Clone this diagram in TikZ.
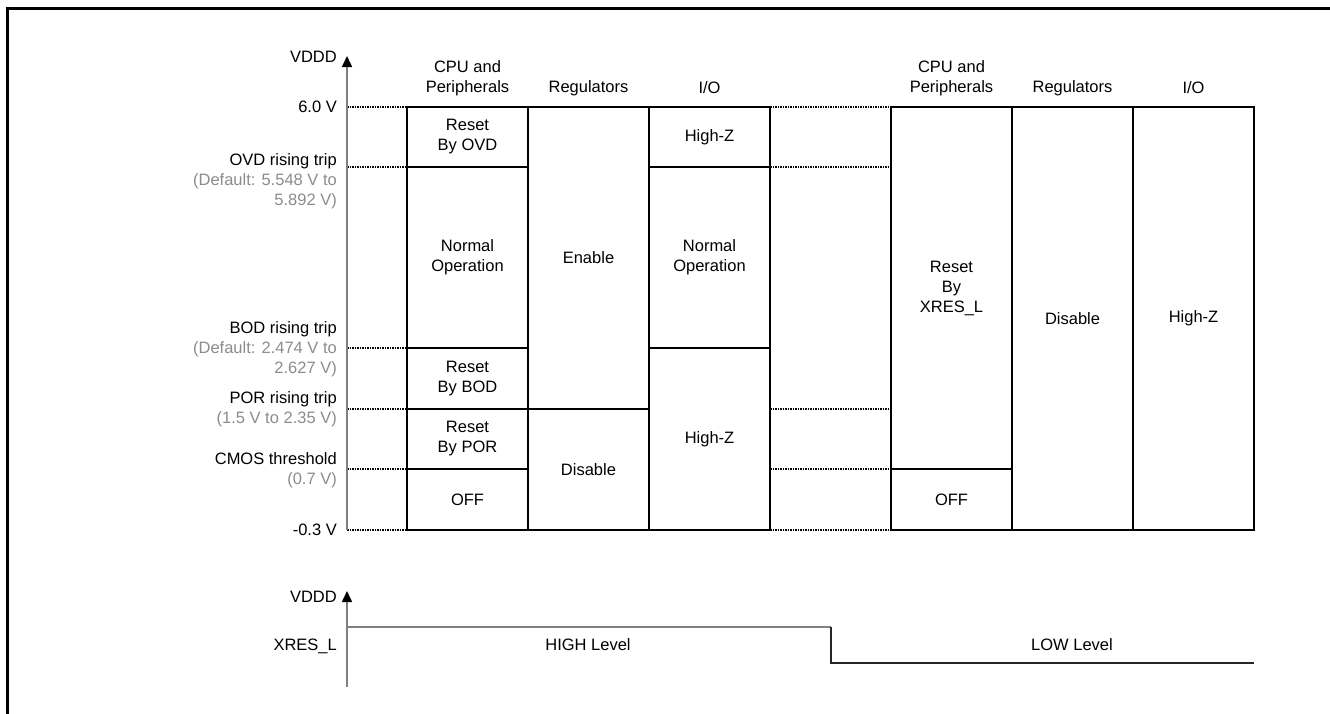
\documentclass[tikz,border=0pt]{standalone}
\usepackage{fontspec}
\setmainfont{Liberation Sans}
\usetikzlibrary{arrows.meta}
\begin{document}
\begin{tikzpicture}[x=1pt,y=-1pt,
  font=\fontsize{16.5}{20}\selectfont,
  cell/.style={draw=black, line width=1.5pt, inner sep=0pt, align=center, minimum width=121pt},
  lbl/.style={anchor=east, inner sep=0pt, text height=11.8pt, text depth=0pt},
  sub/.style={lbl, text=black!45},
  hdr/.style={align=center, inner sep=0pt},
  axisline/.style={draw=black!50, line width=1.6pt, -{Triangle[length=11pt,width=10pt,color=black]}},
  gapline/.style={densely dotted, line width=1.5pt},
  sigline/.style={line width=1.5pt}]
\useasboundingbox (0,0) rectangle (1330,713);
% frame
\draw[line width=3pt] (7,720) -- (7,8.5) -- (1340,8.5);

% dotted gap lines
\foreach \yy in {107,167,348,409,469,530} {
  \coordinate (gl\yy) at (347,\yy);
  \coordinate (gr\yy) at (407,\yy);
  \draw[gapline] (gl\yy) -- (gr\yy);
}
\foreach \yy in {107,167,409,469,530} {
  \coordinate (ml\yy) at (770,\yy);
  \coordinate (mr\yy) at (891,\yy);
  \draw[gapline] (ml\yy) -- (mr\yy);
}

% left block cells
\node[cell, minimum height=60pt]  (rovd) at (467.5,137)   {Reset\\By OVD};
\node[cell, minimum height=181pt] (ncpu) at (467.5,257.5) {Normal\\Operation};
\node[cell, minimum height=61pt]  (rbod) at (467.5,378.5) {Reset\\By BOD};
\node[cell, minimum height=60pt]  (rpor) at (467.5,439)   {Reset\\By POR};
\node[cell, minimum height=61pt]  (offa) at (467.5,499.5) {OFF};
\node[cell, minimum height=302pt] (ena)  at (588.5,258)   {Enable};
\node[cell, minimum height=121pt] (disa) at (588.5,469.5) {Disable};
\node[cell, minimum height=60pt]  (hza)  at (709.5,137)   {High-Z};
\node[cell, minimum height=181pt] (nio)  at (709.5,257.5) {Normal\\Operation};
\node[cell, minimum height=182pt] (hzb)  at (709.5,439)   {High-Z};
% middle column borders
\node[cell, minimum height=423pt] (midc) at (830.5,318.5) {};
% right block cells
\node[cell, minimum height=362pt] (rx)   at (951.5,288)   {Reset\\By\\XRES\_L};
\node[cell, minimum height=61pt]  (offb) at (951.5,499.5) {OFF};
\node[cell, minimum height=423pt] (disb) at (1072.5,318.5) {Disable};
\node[cell, minimum height=423pt] (hzc)  at (1193.5,318.5) {High-Z};

% redraw dotted lines of middle column on top of frame
\fill[white] (771,106) rectangle (890,108.5);
\fill[white] (771,529) rectangle (890,531.5);
\foreach \yy in {107,530} { \draw[gapline] (ml\yy) -- (mr\yy); }

% headers
\node[hdr] (h1) at (467.5,78)  {CPU and\\Peripherals};
\node[hdr] (h2) at (588.5,88)  {Regulators};
\node[hdr] (h3) at (709.5,88)  {I/O};
\node[hdr] (h4) at (951.5,78)  {CPU and\\Peripherals};
\node[hdr] (h5) at (1072.5,88) {Regulators};
\node[hdr] (h6) at (1193.5,88) {I/O};

% upper axis
\coordinate (axa0) at (347,530);
\coordinate (axa1) at (347,56);
\draw[axisline] (axa0) -- (axa1);
\node[lbl] (vd1) at (337,57) {VDDD};

% left labels
\node[lbl] (l60)  at (337,107) {6.0 V};
\node[lbl] (lovd) at (337,160) {OVD rising trip};
\node[sub] (lovd1) at (337,180) {(Default: 5.548 V to};
\node[sub] (lovd2) at (337,200) {5.892 V)};
\node[lbl] (lbod) at (337,328) {BOD rising trip};
\node[sub] (lbod1) at (337,348) {(Default: 2.474 V to};
\node[sub] (lbod2) at (337,368) {2.627 V)};
\node[lbl] (lpor) at (337,398) {POR rising trip};
\node[sub] (lpor1) at (337,418) {(1.5 V to 2.35 V)};
\node[lbl] (lcm)  at (337,459) {CMOS threshold};
\node[sub] (lcm1) at (337,479) {(0.7 V)};
\node[lbl] (lm03) at (337,530) {-0.3 V};

% lower axis
\coordinate (axb0) at (347,687);
\coordinate (axb1) at (347,591);
\draw[axisline] (axb0) -- (axb1);
\node[lbl] (vd2) at (337,597) {VDDD};
\node[lbl] (xr)  at (337,645) {XRES\_L};

\coordinate (s0) at (347,627);
\coordinate (s1) at (831,627);
\coordinate (s2) at (831,663);
\coordinate (s3) at (1254,663);
\draw[sigline, draw=black!50] (s0) -- (s1);
\draw[sigline, draw=black!85, line width=1.3pt] (s1) -- (s2) -- (s3);
\node[inner sep=0pt] (hl) at (588,645)  {HIGH Level};
\node[inner sep=0pt] (ll) at (1072,645) {LOW Level};
\end{tikzpicture}
\end{document}
